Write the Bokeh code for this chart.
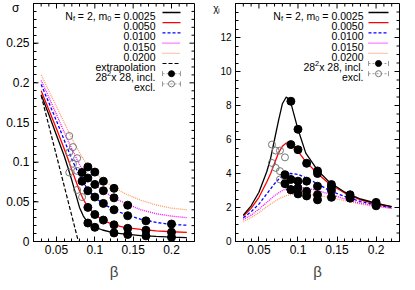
from bokeh.plotting import figure
from bokeh.models import Label, LinearAxis, Range1d, FixedTicker
from bokeh.layouts import row
from bokeh.embed import file_html
from bokeh.resources import INLINE

FONT = "Liberation Sans"

# ---------------- data ----------------
masses = ["0.0025", "0.0050", "0.0100", "0.0150", "0.0200"]
colors = ["#000000", "#ff0000", "#0000ff", "#ff00ff", "#ff9966"]
dashes = ["solid", "solid", "3 2", "1 1", "1 1"]

fit_beta = [0.03, 0.04, 0.05, 0.06, 0.065, 0.07, 0.075, 0.08, 0.085, 0.09,
            0.1, 0.11, 0.125, 0.14, 0.16, 0.18, 0.2, 0.22]

sigma_fit_0025 = [0.185, 0.160, 0.134, 0.108, 0.093, 0.077, 0.060, 0.043, 0.032, 0.025,
                  0.018, 0.0145, 0.011, 0.0092, 0.0075, 0.0064, 0.0056, 0.005]
sigma_fit_0050 = [0.190, 0.166, 0.142, 0.117, 0.104, 0.090, 0.077, 0.064, 0.053, 0.045,
                  0.034, 0.027, 0.021, 0.0175, 0.0152, 0.0135, 0.0123, 0.0115]
sigma_fit_0100 = [0.198, 0.175, 0.152, 0.128, 0.116, 0.104, 0.093, 0.083, 0.074, 0.067,
                  0.056, 0.048, 0.040, 0.034, 0.028, 0.024, 0.0215, 0.0205]
sigma_fit_0150 = [0.203, 0.182, 0.160, 0.138, 0.127, 0.117, 0.107, 0.097, 0.089, 0.082,
                  0.072, 0.064, 0.055, 0.048, 0.040, 0.035, 0.032, 0.030]
sigma_fit_0200 = [0.210, 0.190, 0.170, 0.150, 0.140, 0.130, 0.121, 0.112, 0.104, 0.097,
                  0.087, 0.078, 0.068, 0.060, 0.052, 0.046, 0.042, 0.040]

extrap_beta = [0.03, 0.0785]
extrap_sigma = [0.184, 0.0]

chi_fit_0025 = [1.55, 2.1, 2.9, 4.1, 4.9, 6.0, 7.1, 8.1, 8.5, 8.3,
                6.6, 5.2, 4.2, 3.5, 2.9, 2.5, 2.25, 2.05]
chi_fit_0050 = [1.5, 1.95, 2.6, 3.5, 4.0, 4.6, 5.2, 5.6, 5.8, 5.75,
                5.3, 4.7, 4.0, 3.4, 2.85, 2.45, 2.2, 2.05]
chi_fit_0100 = [1.4, 1.75, 2.2, 2.8, 3.1, 3.4, 3.65, 3.85, 3.95, 4.0,
                3.95, 3.75, 3.4, 3.0, 2.65, 2.35, 2.15, 2.0]
chi_fit_0150 = [1.3, 1.55, 1.9, 2.3, 2.5, 2.7, 2.85, 3.0, 3.1, 3.15,
                3.2, 3.15, 3.0, 2.8, 2.5, 2.25, 2.1, 1.95]
chi_fit_0200 = [1.18, 1.4, 1.7, 2.05, 2.2, 2.35, 2.5, 2.6, 2.7, 2.75,
                2.8, 2.8, 2.7, 2.6, 2.4, 2.2, 2.05, 1.95]

# included data points (28^2 x 28)
incl_beta_0025 = [1/11, 1/10, 1/8, 1/7, 1/6, 1/5]
incl_sigma_0025 = [0.0233, 0.0179, 0.0108, 0.0088, 0.0071, 0.0054]
incl_chi_0025 = [8.25, 6.6, 4.15, 3.35, 2.75, 2.3]

incl_beta_0050 = [1/11, 1/10, 1/9, 1/8, 1/7, 1/6, 1/5]
incl_sigma_0050 = [0.043, 0.034, 0.027, 0.021, 0.0166, 0.0142, 0.0117]
incl_chi_0050 = [5.7, 5.4, 4.6, 4.0, 3.2, 2.6, 2.2]

incl_beta_0100 = [1/12, 1/11, 1/10, 1/9, 1/8, 1/7, 1/6, 1/5]
incl_sigma_0100 = [0.076, 0.064, 0.056, 0.048, 0.040, 0.0325, 0.026, 0.022]
incl_chi_0100 = [3.93, 3.65, 3.55, 3.55, 3.25, 3.0, 2.55, 2.1]

incl_beta_0150 = [1/12, 1/11, 1/10, 1/9, 1/8, 1/7]
incl_sigma_0150 = [0.087, 0.080, 0.072, 0.064, 0.055, 0.0458]
incl_chi_0150 = [3.4, 3.05, 3.15, 2.95, 2.75, 2.6]

incl_beta_0200 = [1/11, 1/10, 1/9, 1/8]
incl_sigma_0200 = [0.094, 0.0875, 0.076, 0.067]
incl_chi_0200 = [3.05, 2.8, 2.68, 2.45]

# excluded data points
excl_beta_sigma = [1/15, 1/14, 1/15, 1/13, 1/14, 1/13, 1/15, 1/13, 1/12]
excl_sigma = [0.133, 0.119, 0.1125, 0.105, 0.098, 0.089, 0.087, 0.065, 0.056]

excl_beta_chi = [1/15, 1/14, 1/13, 1/12, 1/15, 1/14, 1/13, 1/12, 1/13]
excl_chi = [5.7, 5.35, 5.35, 4.95, 4.62, 4.33, 4.14, 3.79, 3.65]

x_major = [0.05, 0.1, 0.15, 0.2]
x_labels = ["0.05", "0.1", "0.15", "0.2"]
sigma_major = [0, 0.05, 0.1, 0.15, 0.2, 0.25]
sigma_labels = ["0", "0.05", "0.1", "0.15", "0.2", "0.25"]
chi_major = [0, 2, 4, 6, 8, 10, 12]
chi_labels = ["0", "2", "4", "6", "8", "10", "12"]

# ---------------- layout constants ----------------
XR = (0.02, 0.23)
FT, FH = 11, 238                     # frame top / height in page px
LEFT_L, LEFT_W = 41, 161
RIGHT_L, RIGHT_W = 243, 164
x_minor = [round(0.02 + 0.01 * i, 3) for i in range(22)]
NB = "\u00a0"

ARIAL = {' ': 278, ',': 278, '.': 278, '=': 584, 'N': 722, 'm': 833, 'f': 278,
         'x': 500, 'i': 222, 'n': 556, 'c': 500, 'l': 222, 'e': 556, 't': 278,
         'r': 333, 'a': 556, 'p': 556, 'o': 556, '\u00b2': 333}
for d in "0123456789":
    ARIAL[d] = 556


def twidth(s, size):
    return sum(ARIAL.get(c, 556) for c in s) * size / 1000.0


def make_fig(fw, yr, ymaj, ylab, minor_y, ylab_size, border_l, border_r,
             ytitle, ytitle_pos):
    p = figure(width=border_l + fw + border_r, height=3 + FH + 39,
               frame_width=fw, frame_height=FH,
               x_range=Range1d(*XR), y_range=Range1d(*yr),
               min_border_left=border_l, min_border_right=border_r,
               min_border_top=3, min_border_bottom=39,
               output_backend="svg", toolbar_location=None,
               x_axis_type=None, y_axis_type=None)
    p.grid.visible = False
    p.outline_line_color = "black"
    p.outline_line_width = 1
    p.background_fill_color = "white"
    p.border_fill_color = "white"
    xt = FixedTicker(ticks=x_major, minor_ticks=x_minor)
    # the y title sits in the tick-label column at the top of the axis
    yt = FixedTicker(ticks=list(ymaj) + [ytitle_pos], minor_ticks=minor_y)
    for loc, ticker in (("below", xt), ("left", yt)):
        ax = LinearAxis(ticker=ticker)
        ax.major_tick_out = 0
        ax.minor_tick_in = 3
        ax.minor_tick_out = 0
        ax.axis_line_color = "black"
        ax.major_tick_line_color = "black"
        ax.minor_tick_line_color = "black"
        ax.major_label_text_font = FONT
        ax.major_label_text_color = "black"
        if loc == "below":
            ax.major_tick_in = 5
            ax.major_label_overrides = dict(zip(x_major, x_labels))
            ax.major_label_text_font_size = "12px"
            ax.major_label_standoff = 3
            ax.axis_label = "\u03b2"
            ax.axis_label_text_font = FONT
            ax.axis_label_text_font_size = "15px"
            ax.axis_label_text_font_style = "normal"
            ax.axis_label_standoff = 6
        else:
            ax.major_tick_in = 0
            ov = dict(zip(ymaj, ylab))
            ov[ytitle_pos] = ytitle
            ax.major_label_overrides = ov
            ax.major_label_text_font_size = ylab_size
            ax.major_label_standoff = 4
        p.add_layout(ax, loc)

    ys = yr[1] - yr[0]
    xs = XR[1] - XR[0]
    # left major ticks (drawn here so that the title position gets no tick)
    ty = list(ymaj)
    p.segment([XR[0]] * len(ty), ty, [XR[0] + 5 / fw * xs] * len(ty), ty,
              line_color="black", line_width=1)
    # mirrored ticks on the top and right edges of the frame
    tx = list(x_major)
    p.segment(tx, [yr[1]] * len(tx), tx, [yr[1] - 5 / FH * ys] * len(tx),
              line_color="black", line_width=1)
    mx = [t for t in x_minor if t not in x_major]
    p.segment(mx, [yr[1]] * len(mx), mx, [yr[1] - 3 / FH * ys] * len(mx),
              line_color="black", line_width=1)
    p.segment([XR[1]] * len(ty), ty, [XR[1] - 5 / fw * xs] * len(ty), ty,
              line_color="black", line_width=1)
    my = [t for t in minor_y if t not in ymaj]
    p.segment([XR[1]] * len(my), my, [XR[1] - 3 / fw * xs] * len(my), my,
              line_color="black", line_width=1)
    return p


def put_text(p, fl, X, Y, text, size, align="left", color="black"):
    # X, Y: page pixels (Y = baseline)
    p.add_layout(Label(x=X - fl, y=(FT + FH) - Y, x_units="screen", y_units="screen",
                       text=text, text_font=FONT, text_font_size=f"{size}px",
                       text_align=align, text_baseline="alphabetic",
                       text_color=color))


def rich_right(p, fl, Xr, Y, pieces, size):
    total = sum(twidth(t, size * s) for t, s, d in pieces)
    x = Xr - total
    for t, s, d in pieces:
        fsz = size * s
        lead = len(t) - len(t.lstrip(" "))
        put_text(p, fl, x + twidth(" " * lead, fsz), Y + d, t.strip(" "), fsz)
        x += twidth(t, fsz)


def to_data(fl, fw, yr, X, Y):
    xd = XR[0] + (X - fl) / fw * (XR[1] - XR[0])
    yd = yr[1] - (Y - FT) / FH * (yr[1] - yr[0])
    return xd, yd


def legend(p, fl, fw, yr, text_right, sample_l, sample_r, extra):
    fs = 10.5
    y0 = 23.5
    dy = 10.2
    rich_right(p, fl, text_right, y0,
               [("N", 1, 0), ("f", 0.7, 2.5), (" = 2, m", 1, 0), ("0", 0.7, 2.5),
                (" = 0.0025", 1, 0)], fs)
    for i, (m, c, d) in enumerate(zip(masses, colors, dashes)):
        Y = y0 + i * dy
        if i > 0:
            put_text(p, fl, text_right, Y, m, fs, align="right")
        x1, yy = to_data(fl, fw, yr, sample_l, Y - 3.5)
        x2, _ = to_data(fl, fw, yr, sample_r, Y - 3.5)
        p.line([x1, x2], [yy, yy], line_color=c, line_dash=d, line_width=1.3)
    k = len(masses)
    for label, kind in extra:
        Y = y0 + k * dy
        x1, yy = to_data(fl, fw, yr, sample_l, Y - 3.5)
        x2, _ = to_data(fl, fw, yr, sample_r, Y - 3.5)
        xm = (x1 + x2) / 2
        if kind == "extrap":
            put_text(p, fl, text_right, Y, label, fs, align="right")
            p.line([x1, x2], [yy, yy], line_color="black", line_dash="4 2", line_width=1.2)
        else:
            if kind == "incl":
                rich_right(p, fl, text_right, Y,
                           [("28", 1, 0), ("2", 0.7, -4), ("x 28, incl.", 1, 0)], fs)
            else:
                put_text(p, fl, text_right, Y, label, fs, align="right")
            p.line([x1, x2], [yy, yy], line_color="#999999", line_dash="2 2", line_width=1)
            _, ya = to_data(fl, fw, yr, sample_l, Y - 6)
            _, yb = to_data(fl, fw, yr, sample_l, Y - 1)
            p.segment([x1, x2], [ya, ya], [x1, x2], [yb, yb], line_color="#999999")
            if kind == "incl":
                p.scatter([xm], [yy], size=6, marker="circle", color="black")
            else:
                p.scatter([xm], [yy], size=6, marker="circle", fill_color=None,
                          line_color="#777777")
        k += 1


# ---------------- left panel: sigma ----------------
SY = (0, 0.3)
sig_minor = [round(0.01 * i, 3) for i in range(31)]
p1 = make_fig(LEFT_W, SY, sigma_major, sigma_labels, sig_minor, "12px", 33, 12,
              "\u03c3" + NB * 3, 0.294)

sig_fits = [sigma_fit_0025, sigma_fit_0050, sigma_fit_0100, sigma_fit_0150, sigma_fit_0200]
for ys, c, d in zip(sig_fits[::-1], colors[::-1], dashes[::-1]):
    p1.line(fit_beta, ys, line_color=c, line_dash=d, line_width=1.3)
p1.line(extrap_beta, extrap_sigma, line_color="black", line_dash="4 2", line_width=1.2)

p1.scatter(excl_beta_sigma, excl_sigma, size=7, marker="circle", fill_color=None,
           line_color="#777777", line_width=1)
sig_pts = [(incl_beta_0025, incl_sigma_0025), (incl_beta_0050, incl_sigma_0050),
           (incl_beta_0100, incl_sigma_0100), (incl_beta_0150, incl_sigma_0150),
           (incl_beta_0200, incl_sigma_0200)]
for bx, sy in sig_pts:
    p1.scatter(bx, sy, size=8, marker="circle", color="black")

legend(p1, LEFT_L, LEFT_W, SY, 163, 170, 188,
       [("extrapolation", "extrap"), ("28x28", "incl"), ("excl.", "excl")])

# ---------------- right panel: chi ----------------
CY = (0, 14)
chi_minor = [0.5 * i for i in range(29)]
p2 = make_fig(RIGHT_W, CY, chi_major, chi_labels, chi_minor, "10px", 29, 6,
              "\u03c7\u2097" + NB * 4, 13.7)

chi_fits = [chi_fit_0025, chi_fit_0050, chi_fit_0100, chi_fit_0150, chi_fit_0200]
for ys, c, d in zip(chi_fits[::-1], colors[::-1], dashes[::-1]):
    p2.line(fit_beta, ys, line_color=c, line_dash=d, line_width=1.3)

p2.scatter(excl_beta_chi, excl_chi, size=7, marker="circle", fill_color=None,
           line_color="#777777", line_width=1)
chi_pts = [(incl_beta_0025, incl_chi_0025), (incl_beta_0050, incl_chi_0050),
           (incl_beta_0100, incl_chi_0100), (incl_beta_0150, incl_chi_0150),
           (incl_beta_0200, incl_chi_0200)]
for bx, cy in chi_pts:
    p2.scatter(bx, cy, size=8, marker="circle", color="black")

legend(p2, RIGHT_L, RIGHT_W, CY, 371, 376, 396,
       [("28x28", "incl"), ("excl.", "excl")])

layout = row(p1, p2)
open("out.html", "w").write(file_html(layout, INLINE))
